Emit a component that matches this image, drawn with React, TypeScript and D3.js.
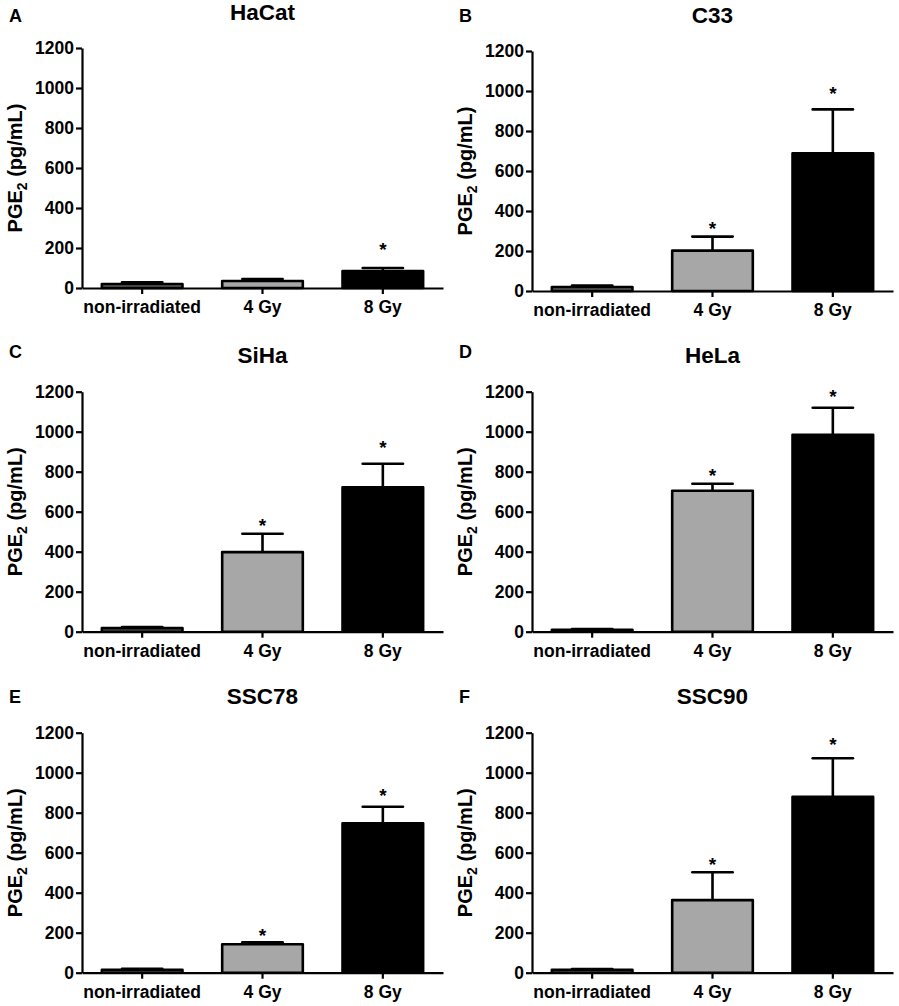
import * as d3 from 'd3';
import React, { useEffect } from 'react';

// conditions on the x axis
const categories = ['non-irradiated', '4 Gy', '8 Gy'];
const cellLines = ['HaCat', 'C33', 'SiHa', 'HeLa', 'SSC78', 'SSC90'];
const panelLetters = ['A', 'B', 'C', 'D', 'E', 'F'];

// PGE2 (pg/mL), mean per condition
const means = [
  [20, 35, 85],
  [20, 202, 688],
  [18, 398, 722],
  [10, 705, 985],
  [15, 142, 747],
  [15, 363, 880],
];
// upper error (SEM)
const errors = [
  [8, 10, 15],
  [7, 70, 220],
  [5, 92, 118],
  [3, 35, 135],
  [4, 10, 83],
  [3, 139, 192],
];
// height (in pg/mL) of the significance asterisk, null = none
const stars: (number | null)[][] = [
  [null, null, 206],
  [null, 326, 1000],
  [null, 542, 933],
  [null, 795, 1188],
  [null, 200, 897],
  [null, 555, 1155],
];
const yTicks = [0, 200, 400, 600, 800, 1000, 1200];
const fills = ['#5c5c5c', '#a7a7a7', '#000000'];

// layout of the 3x2 grid (px)
const plotLeft = [82, 532];
const plotTops = [48, 51, 391.7, 391.7, 732.7, 732.7];
const letterBaselines = [21.7, 358, 703];
const plotW = 361;
const plotH = 240;
const font = '"Liberation Sans", Arial, Helvetica, sans-serif';

export default function App() {
  const ref = React.useRef<HTMLDivElement>(null);

  useEffect(() => {
    if (!ref.current) return;
    document.body.style.margin = '0';
    ref.current.innerHTML = '';

    const svg = d3
      .select(ref.current)
      .append('svg')
      .attr('width', 899)
      .attr('height', 1006)
      .style('display', 'block')
      .style('font-family', font)
      .style('font-weight', 'bold');

    const x = d3
      .scaleBand<string>()
      .domain(categories)
      .range([0, plotW])
      .paddingInner(0.33)
      .paddingOuter(0.165);
    const y = d3.scaleLinear().domain([0, 1200]).range([plotH, 0]);

    cellLines.forEach((name, p) => {
      const col = p % 2;
      const row = Math.floor(p / 2);
      const left = plotLeft[col];
      const top = plotTops[p];

      // panel letter
      svg
        .append('text')
        .attr('x', col * 450 + 9)
        .attr('y', letterBaselines[row])
        .attr('font-size', 18)
        .text(panelLetters[p]);

      const g = svg.append('g').attr('transform', `translate(${left},${top})`);

      // title
      g.append('text')
        .attr('x', plotW / 2)
        .attr('y', -28.5)
        .attr('text-anchor', 'middle')
        .attr('font-size', 22.5)
        .text(name);

      // y label
      const yl = g
        .append('text')
        .attr('transform', `translate(-60,${plotH / 2}) rotate(-90)`)
        .attr('text-anchor', 'middle')
        .attr('font-size', 20);
      yl.append('tspan').text('PGE');
      yl.append('tspan').attr('font-size', 14).attr('dy', 5).text('2');
      yl.append('tspan').attr('dy', -5).text(' (pg/mL)');

      // bars
      const bars = categories.map((c, i) => ({
        c,
        v: means[p][i],
        e: errors[p][i],
        s: stars[p][i],
        fill: fills[i],
      }));
      const bw = x.bandwidth();

      g.selectAll('line.err')
        .data(bars)
        .enter()
        .append('line')
        .attr('x1', d => x(d.c)! + bw / 2)
        .attr('x2', d => x(d.c)! + bw / 2)
        .attr('y1', d => y(d.v))
        .attr('y2', d => y(d.v + d.e))
        .attr('stroke', '#000')
        .attr('stroke-width', 2.6);
      g.selectAll('line.cap')
        .data(bars)
        .enter()
        .append('line')
        .attr('x1', d => x(d.c)! + bw / 4)
        .attr('x2', d => x(d.c)! + (bw * 3) / 4)
        .attr('y1', d => y(d.v + d.e))
        .attr('y2', d => y(d.v + d.e))
        .attr('stroke', '#000')
        .attr('stroke-width', 2.6)
        .attr('stroke-linecap', 'round');

      g.selectAll('rect')
        .data(bars)
        .enter()
        .append('rect')
        .attr('x', d => x(d.c)!)
        .attr('width', bw)
        .attr('y', d => y(d.v))
        .attr('height', d => y(0) - y(d.v))
        .attr('fill', d => d.fill)
        .attr('stroke', '#000')
        .attr('stroke-width', 2.6)
        .attr('stroke-linejoin', 'round');

      g.selectAll('text.star')
        .data(bars.filter(d => d.s !== null))
        .enter()
        .append('text')
        .attr('x', d => x(d.c)! + bw / 2)
        .attr('y', d => y(d.s as number) + 9)
        .attr('text-anchor', 'middle')
        .attr('font-size', 19)
        .text('*');

      // axes
      const ya = g
        .append('g')
        .call(
          d3
            .axisLeft(y)
            .tickValues(yTicks)
            .tickFormat(d3.format('d'))
            .tickSize(6)
            .tickSizeOuter(0)
            .tickPadding(2)
        );
      const xa = g
        .append('g')
        .attr('transform', `translate(0,${plotH})`)
        .call(d3.axisBottom(x).tickSize(6).tickSizeOuter(0).tickPadding(7));
      [ya, xa].forEach(a => {
        a.select('.domain').attr('stroke-width', 2.2);
        a.selectAll('.tick line').attr('stroke-width', 2.2);
        a.selectAll('text')
          .attr('font-size', 17.5)
          .attr('font-family', font)
          .attr('font-weight', 'bold')
          .attr('fill', '#000');
      });
    });
  }, []);

  return <div ref={ref}></div>;
}
